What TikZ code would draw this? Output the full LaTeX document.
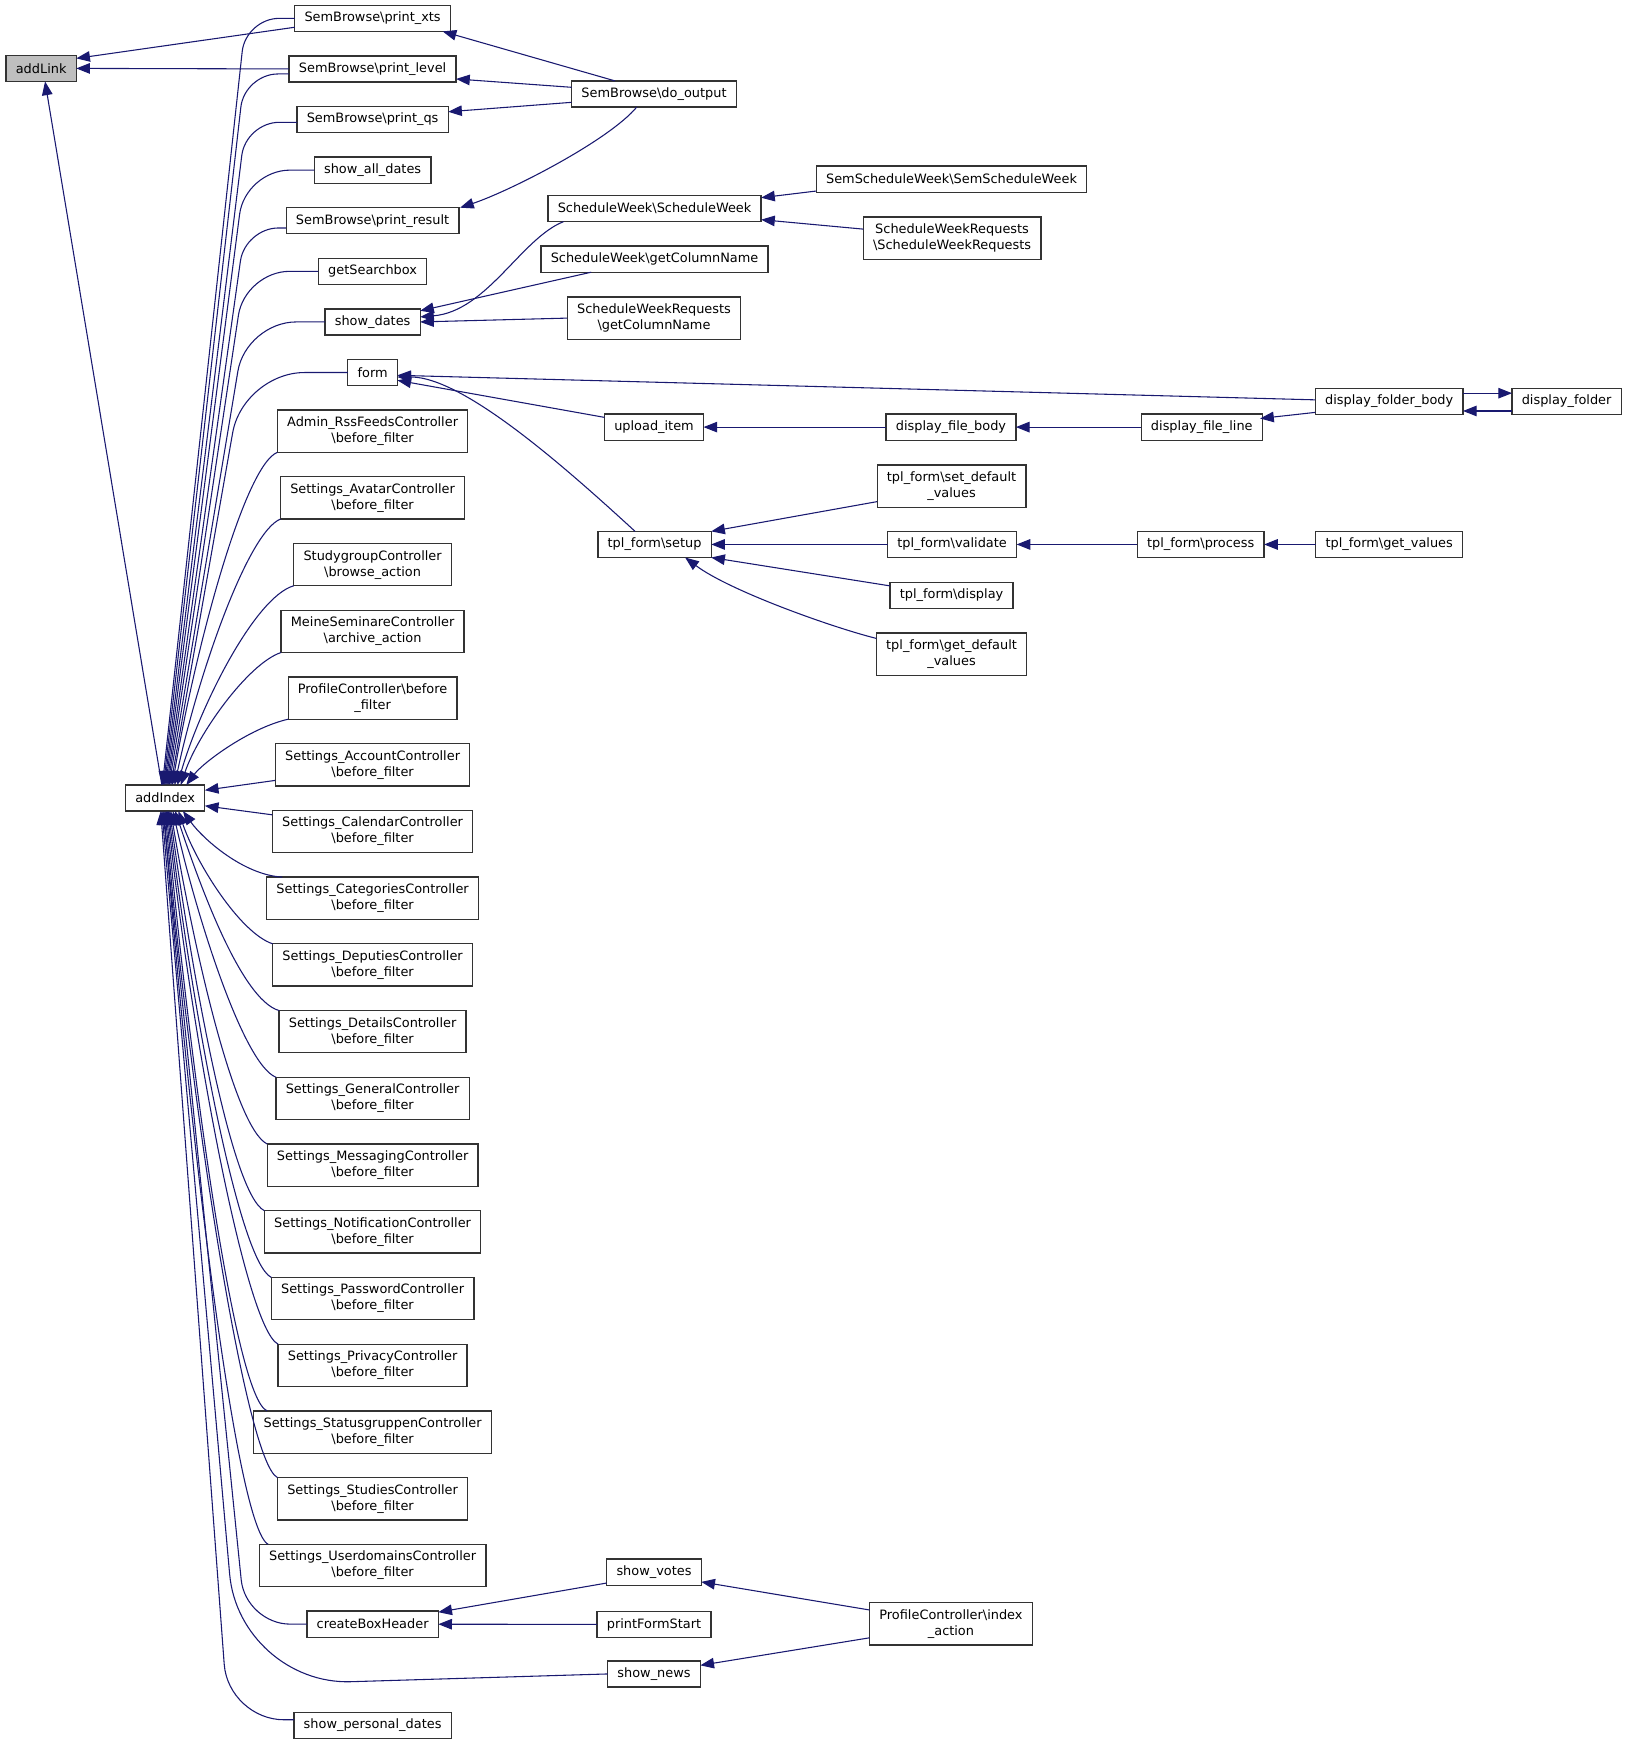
\documentclass[tikz,border=0pt]{standalone}
\usepackage{fontspec}
\setmainfont{DejaVu Sans}
\usetikzlibrary{positioning,arrows.meta,calc}
\definecolor{callblue}{HTML}{191970}
\definecolor{focusgray}{HTML}{BFBFBF}

\begin{document}
\begin{tikzpicture}[
  x=0.02cm, y=-0.02cm,
  node distance=0.44cm,
  fn/.style={draw=black!80, fill=white, line width=0.65pt, inner xsep=5pt, inner ysep=0pt, outer sep=0pt, minimum height=0.47cm, align=center, font=\fontsize{6.6}{8.2}\selectfont},
  fntwo/.style={fn, minimum height=0.76cm},
  call/.style={draw=callblue, line width=0.55pt, -{Triangle[length=7pt,width=5.4pt]}},
  fan/.style={call, rounded corners=0.6cm}
]
\useasboundingbox (0,0) rectangle (1463,1568);

% the two functions on the left
\node[fn, fill=focusgray] (addLink) at (37,61.5) {addLink};
\node[fn] (addIndex) at (148.5,717.5) {addIndex};

% callers of addIndex
\node[fn] (printXts) at (335,16.5) {SemBrowse\textbackslash print\_xts};
\node[fn, below=of printXts] (printLevel) {SemBrowse\textbackslash print\_level};
\node[fn, below=of printLevel] (printQs) {SemBrowse\textbackslash print\_qs};
\node[fn, below=of printQs] (showAllDates) {show\_all\_dates};
\node[fn, below=of showAllDates] (printResult) {SemBrowse\textbackslash print\_result};
\node[fn, below=of printResult] (getSearchbox) {getSearchbox};
\node[fn, below=of getSearchbox] (showDates) {show\_dates};
\node[fn, below=of showDates] (form) {form};
\node[fntwo, below=of form] (adminRss) {Admin\_RssFeedsController\\\textbackslash before\_filter};
\node[fntwo, below=of adminRss] (setAvatar) {Settings\_AvatarController\\\textbackslash before\_filter};
\node[fntwo, below=of setAvatar] (studygroup) {StudygroupController\\\textbackslash browse\_action};
\node[fntwo, below=of studygroup] (meineSem) {MeineSeminareController\\\textbackslash archive\_action};
\node[fntwo, below=of meineSem] (profileBefore) {ProfileController\textbackslash before\\\_filter};
\node[fntwo, below=of profileBefore] (setAccount) {Settings\_AccountController\\\textbackslash before\_filter};
\node[fntwo, below=of setAccount] (setCalendar) {Settings\_CalendarController\\\textbackslash before\_filter};
\node[fntwo, below=of setCalendar] (setCategories) {Settings\_CategoriesController\\\textbackslash before\_filter};
\node[fntwo, below=of setCategories] (setDeputies) {Settings\_DeputiesController\\\textbackslash before\_filter};
\node[fntwo, below=of setDeputies] (setDetails) {Settings\_DetailsController\\\textbackslash before\_filter};
\node[fntwo, below=of setDetails] (setGeneral) {Settings\_GeneralController\\\textbackslash before\_filter};
\node[fntwo, below=of setGeneral] (setMessaging) {Settings\_MessagingController\\\textbackslash before\_filter};
\node[fntwo, below=of setMessaging] (setNotification) {Settings\_NotificationController\\\textbackslash before\_filter};
\node[fntwo, below=of setNotification] (setPassword) {Settings\_PasswordController\\\textbackslash before\_filter};
\node[fntwo, below=of setPassword] (setPrivacy) {Settings\_PrivacyController\\\textbackslash before\_filter};
\node[fntwo, below=of setPrivacy] (setStatusgruppen) {Settings\_StatusgruppenController\\\textbackslash before\_filter};
\node[fntwo, below=of setStatusgruppen] (setStudies) {Settings\_StudiesController\\\textbackslash before\_filter};
\node[fntwo, below=of setStudies] (setUserdomains) {Settings\_UserdomainsController\\\textbackslash before\_filter};
\node[fn, below=of setUserdomains] (createBoxHeader) {createBoxHeader};
\node[fn, below=1.35cm of createBoxHeader] (showPersonalDates) {show\_personal\_dates};

% third column
\node[fn] (doOutput) at (588,84.5) {SemBrowse\textbackslash do\_output};
\node[fn] (swSW) at (588.5,187.5) {ScheduleWeek\textbackslash ScheduleWeek};
\node[fn] (swGetCol) at (588.5,233) {ScheduleWeek\textbackslash getColumnName};
\node[fntwo] (swrGetCol) at (588,286) {ScheduleWeekRequests\\\textbackslash getColumnName};
\node[fn] (uploadItem) at (588,384) {upload\_item};
\node[fn] (setup) at (588.5,489.5) {tpl\_form\textbackslash setup};
\node[fn] (showVotes) at (588,1413.5) {show\_votes};
\node[fn] (printFormStart) at (588,1460.5) {printFormStart};
\node[fn] (showNews) at (588,1505) {show\_news};

% fourth column
\node[fn] (semSW) at (855.5,161) {SemScheduleWeek\textbackslash SemScheduleWeek};
\node[fntwo] (swrSWR) at (856,214) {ScheduleWeekRequests\\\textbackslash ScheduleWeekRequests};
\node[fn] (displayFileBody) at (855,384) {display\_file\_body};
\node[fntwo] (setDefault) at (855.5,437) {tpl\_form\textbackslash set\_default\\\_values};
\node[fn] (validate) at (856,489.5) {tpl\_form\textbackslash validate};
\node[fn] (display) at (855.5,535.5) {tpl\_form\textbackslash display};
\node[fntwo] (getDefault) at (855.5,588) {tpl\_form\textbackslash get\_default\\\_values};
\node[fntwo] (indexAction) at (855,1460) {ProfileController\textbackslash index\\\_action};

% right part
\node[fn] (displayFileLine) at (1080.5,384) {display\_file\_line};
\node[fn] (process) at (1079.5,489.5) {tpl\_form\textbackslash process};
\node[fn] (displayFolderBody) at (1249,361) {display\_folder\_body};
\node[fn] (getValues) at (1249,489.5) {tpl\_form\textbackslash get\_values};
\node[fn] (displayFolder) at (1408.5,361) {display\_folder};

% calls into addLink
\draw[call] ($(printXts.west)+(0,8)$) -- ($(addLink.east)+(0,-9)$);
\draw[call] (printLevel.west) -- (addLink.east);
\draw[call] ($(addIndex.north)+(-3,0)$) -- ($(addLink.south)+(3.5,0)$);

% calls into addIndex, from above
\draw[fan] (printXts.west) -- ++(-44,0) -- ($(addIndex.north)+(-2.5,0)$);
\draw[fan] ($(printLevel.west)+(0,4.5)$) -- ++(-40,0) -- ($(addIndex.north)+(-1.5,0)$);
\draw[fan] ($(printQs.west)+(0,2.5)$) -- ++(-46,0) -- ($(addIndex.north)+(-0.5,0)$);
\draw[fan, rounded corners=0.8cm] (showAllDates.west) -- ++(-62,0) -- ($(addIndex.north)+(0.5,0)$);
\draw[fan] ($(printResult.west)+(0,6.5)$) -- ++(-37,0) -- ($(addIndex.north)+(1.5,0)$);
\draw[fan, rounded corners=0.8cm] (getSearchbox.west) -- ++(-66,0) -- ($(addIndex.north)+(2.5,0)$);
\draw[fan, rounded corners=0.9cm] (showDates.west) -- ++(-71,0) -- ($(addIndex.north)+(3.5,0)$);
\draw[fan, rounded corners=1.1cm] (form.west) -- ++(-94,0) -- ($(addIndex.north)+(5,0)$);
\draw[call] (adminRss.south west) .. controls +(-30,12) and +(20,-120) .. ($(addIndex.north)+(6.5,0)$);
\draw[call] (setAvatar.south west) .. controls +(-30,12) and +(20,-95) .. ($(addIndex.north)+(8.5,0)$);
\draw[call] (studygroup.south west) .. controls +(-35,10) and +(20,-70) .. ($(addIndex.north)+(11,0)$);
\draw[call] (meineSem.south west) .. controls +(-30,10) and +(15,-45) .. ($(addIndex.north)+(14,0)$);
\draw[call] (profileBefore.south west) .. controls +(-35,8) and +(15,-20) .. ($(addIndex.north)+(19,0)$);

% from the right side
\draw[call] ($(setAccount.west)+(0,14)$) -- ($(addIndex.east)+(0,-7)$);
\draw[call] ($(setCalendar.west)+(0,-15)$) -- ($(addIndex.east)+(0,7)$);

% from below
\draw[call] ($(setCategories.north west)+(14,0)$) .. controls +(-35,-2) and +(18,25) .. ($(addIndex.south)+(16,0)$);
\draw[call] (setDeputies.north west) .. controls +(-30,-10) and +(15,45) .. ($(addIndex.south)+(12,0)$);
\draw[call] (setDetails.north west) .. controls +(-35,-10) and +(20,60) .. ($(addIndex.south)+(9,0)$);
\draw[call] (setGeneral.north west) .. controls +(-30,-12) and +(20,90) .. ($(addIndex.south)+(7,0)$);
\draw[call] (setMessaging.north west) .. controls +(-30,-15) and +(20,120) .. ($(addIndex.south)+(5,0)$);
\draw[call] (setNotification.north west) .. controls +(-30,-15) and +(20,145) .. ($(addIndex.south)+(4,0)$);
\draw[call] (setPassword.north west) .. controls +(-30,-15) and +(20,170) .. ($(addIndex.south)+(3,0)$);
\draw[call] (setPrivacy.north west) .. controls +(-30,-15) and +(20,190) .. ($(addIndex.south)+(2,0)$);
\draw[call] ($(setStatusgruppen.north west)+(12,0)$) .. controls +(-30,-12) and +(20,215) .. ($(addIndex.south)+(1,0)$);
\draw[call] (setStudies.north west) .. controls +(-30,-15) and +(20,240) .. ($(addIndex.south)+(0,0)$);
\draw[call] ($(setUserdomains.north west)+(8,0)$) .. controls +(-30,-15) and +(20,264) .. ($(addIndex.south)+(-1,0)$);
\draw[fan, rounded corners=0.8cm] (createBoxHeader.west) -- ++(-55,0) -- ($(addIndex.south)+(-2,0)$);
\draw[fan, rounded corners=2cm] (showNews.west) -- ++(-331,10) -- ($(addIndex.south)+(-3,0)$);
\draw[fan, rounded corners=1cm] ($(showPersonalDates.west)+(0,-5)$) -- ++(-59,0) -- ($(addIndex.south)+(-4,0)$);

% SemBrowse
\draw[call] ($(doOutput.north)+(-35,0)$) -- ($(printXts.south east)+(-7,0)$);
\draw[call] ($(doOutput.west)+(0,-6)$) -- ($(printLevel.east)+(0,9)$);
\draw[call] ($(doOutput.west)+(0,7.5)$) -- ($(printQs.east)+(0,-7)$);
\draw[call] ($(doOutput.south)+(-15.5,0)$) .. controls +(-25,30) and +(45,-15) .. ($(printResult.north east)+(1,0)$);

% ScheduleWeek
\draw[call] ($(swSW.south west)+(14,0)$) .. controls +(-38,15) and +(60,-5) .. ($(showDates.east)+(0,-4.5)$);
\draw[call] ($(swGetCol.south)+(-57,0)$) -- ($(showDates.east)+(0,-10)$);
\draw[call] (swrGetCol.west) -- (showDates.east);
\draw[call] ($(semSW.south west)+(0,-1)$) -- ($(swSW.north east)+(0,2)$);
\draw[call] ($(swrSWR.west)+(0,-8)$) -- ($(swSW.east)+(0,10)$);

% form and folders
\draw[call] ($(displayFolderBody.west)+(0,-1.5)$) -- ($(form.east)+(0,2.5)$);
\draw[call] ($(uploadItem.north west)+(0,3)$) -- ($(form.east)+(0,7)$);
\draw[call] ($(setup.north)+(-17.5,0)$) .. controls +(-60,-55) and +(60,0) .. ($(form.east)+(0,4)$);
\draw[call] (displayFileBody) -- (uploadItem);
\draw[call] (displayFileLine) -- (displayFileBody);
\draw[call] ($(displayFolderBody.south west)+(0,-2)$) -- ($(displayFileLine.north east)+(-2,4)$);
\draw[call] ($(displayFolderBody.east)+(0,-7.5)$) -- ($(displayFolder.west)+(0,-7.5)$);
\draw[call] ($(displayFolder.west)+(0,8.5)$) -- ($(displayFolderBody.east)+(0,8.5)$);

% tpl_form
\draw[call] ($(setDefault.south west)+(0,-5)$) -- (setup.north east);
\draw[call] (validate) -- (setup);
\draw[call] ($(display.north west)+(0,3)$) -- (setup.south east);
\draw[call] ($(getDefault.west)+(0,-14)$) .. controls +(-40,-10) and +(40,30) .. ($(setup.south)+(27.5,0)$);
\draw[call] (process) -- (validate);
\draw[call] (getValues) -- (process);

% createBoxHeader and news
\draw[call] ($(showVotes.south west)+(0,-2)$) -- ($(createBoxHeader.north east)+(0,1)$);
\draw[call] (printFormStart) -- (createBoxHeader);
\draw[call] ($(indexAction.west)+(0,-12.5)$) -- ($(showVotes.south east)+(0,-3)$);
\draw[call] ($(indexAction.west)+(0,12.5)$) -- ($(showNews.north east)+(0,4)$);
\end{tikzpicture}
\end{document}
